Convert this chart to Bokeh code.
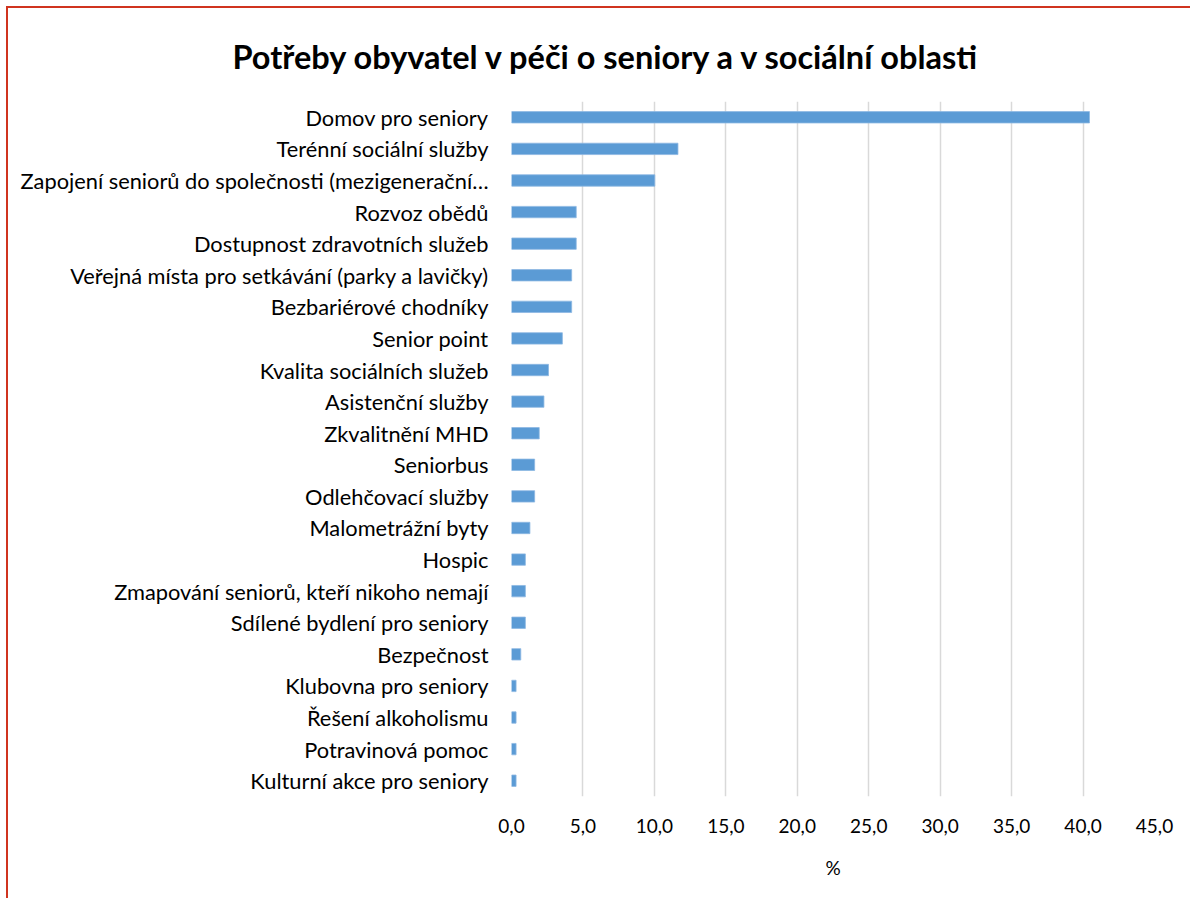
from bokeh.plotting import figure
from bokeh.models import Range1d, FixedTicker
from bokeh.embed import file_html
from bokeh.resources import INLINE

categories = [
    "Domov pro seniory",
    "Terénní sociální služby",
    "Zapojení seniorů do společnosti (mezigenerační…",
    "Rozvoz obědů",
    "Dostupnost zdravotních služeb",
    "Veřejná místa pro setkávání (parky a lavičky)",
    "Bezbariérové chodníky",
    "Senior point",
    "Kvalita sociálních služeb",
    "Asistenční služby",
    "Zkvalitnění MHD",
    "Seniorbus",
    "Odlehčovací služby",
    "Malometrážní byty",
    "Hospic",
    "Zmapování seniorů, kteří nikoho nemají",
    "Sdílené bydlení pro seniory",
    "Bezpečnost",
    "Klubovna pro seniory",
    "Řešení alkoholismu",
    "Potravinová pomoc",
    "Kulturní akce pro seniory",
]
values = [40.45, 11.65, 10.03, 4.53, 4.53, 4.21, 4.21, 3.56, 2.59, 2.27, 1.94,
          1.62, 1.62, 1.29, 0.97, 0.97, 0.97, 0.65, 0.32, 0.32, 0.32, 0.32]
tick_values = [0, 5, 10, 15, 20, 25, 30, 35, 40, 45]
tick_labels = ["0,0", "5,0", "10,0", "15,0", "20,0", "25,0", "30,0", "35,0", "40,0", "45,0"]
title_text = "Potřeby obyvatel v péči o seniory a v sociální oblasti"
x_title = "%"

FONT = "Lato"

p = figure(
    width=1184, height=892,
    y_range=list(reversed(categories)),
    x_range=Range1d(0, 45),
    output_backend="svg", toolbar_location=None,
    min_border_left=503, min_border_right=38,
    min_border_top=93, min_border_bottom=104,
)
p.y_range.range_padding = 0
p.styles = {
    "margin-left": "6px",
    "margin-top": "6px",
    "border-left": "2px solid #D0341F",
    "border-top": "2px solid #D0341F",
}

p.hbar(y=categories, right=values, left=0, height=0.36,
       fill_color="#5B9BD5", line_color="#8DB8E2", line_width=0.8)

p.title.text = title_text
p.title.align = "left"
p.title.offset = -279
p.title.standoff = 52
p.title.text_font = FONT
p.title.text_font_style = "bold"
p.title.text_font_size = "32.5px"
p.title.text_color = "#000000"

p.outline_line_color = None
p.ygrid.grid_line_color = None
p.xgrid.grid_line_color = "#D9D9D9"
p.xgrid.grid_line_width = 1.5
p.xaxis.ticker = FixedTicker(ticks=tick_values)
p.xaxis.major_label_overrides = {t: l for t, l in zip(tick_values, tick_labels)}
p.xaxis.axis_line_color = None
p.xaxis.major_tick_line_color = None
p.xaxis.minor_tick_line_color = None
p.xaxis.major_label_standoff = 16
p.xaxis.major_label_text_font = FONT
p.xaxis.major_label_text_font_size = "19px"
p.xaxis.major_label_text_color = "#000000"
p.xaxis.axis_label = x_title
p.xaxis.axis_label_text_font = FONT
p.xaxis.axis_label_text_font_style = "normal"
p.xaxis.axis_label_text_font_size = "19px"
p.xaxis.axis_label_text_color = "#000000"
p.xaxis.axis_label_standoff = 20

p.yaxis.axis_line_color = None
p.yaxis.major_tick_line_color = None
p.yaxis.minor_tick_line_color = None
p.yaxis.major_label_standoff = 17
p.yaxis.major_label_text_font = FONT
p.yaxis.major_label_text_font_size = "21.8px"
p.yaxis.major_label_text_color = "#000000"

open("out.html", "w").write(file_html(p, INLINE))
